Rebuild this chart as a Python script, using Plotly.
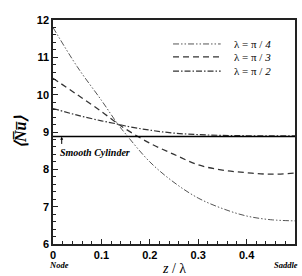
import plotly.graph_objects as go

z = [0, 0.05, 0.1, 0.134, 0.15, 0.2, 0.25, 0.3, 0.35, 0.4, 0.45, 0.5]
nu_pi4 = [11.8, 10.75, 9.85, 9.21, 8.95, 8.2, 7.65, 7.23, 6.95, 6.75, 6.65, 6.62]
nu_pi3 = [10.44, 10.0, 9.55, 9.22, 9.08, 8.7, 8.4, 8.12, 7.98, 7.91, 7.87, 7.9]
nu_pi2 = [9.63, 9.45, 9.3, 9.21, 9.16, 9.05, 8.97, 8.93, 8.91, 8.9, 8.9, 8.9]
smooth_z = [0, 0.5]
smooth_nu = [8.88, 8.88]

names = ["\u03bb = \u03c0 / <i>4</i>", "\u03bb = \u03c0 / <i>3</i>", "\u03bb = \u03c0 / <i>2</i>"]
styles = [
    dict(color="#555", width=1, dash="6px,2px,1.5px,2px,1.5px,2px"),
    dict(color="#333", width=1.3, dash="6px,4px"),
    dict(color="#333", width=1.2, dash="6px,2px,1.5px,2px"),
]
series = [nu_pi4, nu_pi3, nu_pi2]

fig = go.Figure()
for name, vals, st in zip(names, series, styles):
    fig.add_trace(go.Scatter(x=z, y=vals, mode="lines", name=name, line_shape="spline",
                             line=st, showlegend=False))
fig.add_trace(go.Scatter(x=smooth_z, y=smooth_nu, mode="lines", showlegend=False,
                         line=dict(color="black", width=1.3)))

# legend drawn inside plot (compact rows)
leg_y = [0.893, 0.835, 0.772]
for name, st, yy in zip(names, styles, leg_y):
    fig.add_shape(type="line", xref="paper", yref="paper", x0=0.496, x1=0.693, y0=yy, y1=yy,
                  line=st)
    fig.add_annotation(x=0.738, y=yy, xref="paper", yref="paper", xanchor="left", yanchor="middle",
                       text=name, showarrow=False,
                       font=dict(family="Liberation Serif, Times New Roman", size=11, color="black"))

axis_common = dict(showline=True, linecolor="#222", linewidth=1.5, mirror=True,
                   ticks="inside", ticklen=5, tickcolor="#222", showgrid=False, zeroline=False,
                   tickfont=dict(family="Arial, Liberation Sans", size=11, color="black", weight="bold"))
fig.update_xaxes(range=[0, 0.5],
                 tickvals=[0, 0.1, 0.2, 0.3, 0.4, 0.5], ticktext=["0", "0.1", "0.2", "0.3", "0.4", "0.5"],
                 minor=dict(ticks="inside", dtick=0.02, ticklen=3, tickcolor="#222"), **axis_common)
fig.update_yaxes(range=[6, 12], dtick=1,
                 minor=dict(ticks="inside", dtick=0.2, ticklen=3, tickcolor="#222"), **axis_common)

fig.add_annotation(x=0.018, y=8.87, ax=0.018, ay=8.64, xref="x", yref="y", axref="x", ayref="y",
                   text="", showarrow=True, arrowhead=2, arrowsize=0.6, arrowwidth=1, arrowcolor="black")
fig.add_annotation(x=0.01, y=8.45, xref="x", yref="y", xanchor="left", yanchor="middle",
                   text="<b><i>Smooth Cylinder</i></b>", showarrow=False,
                   font=dict(family="Liberation Serif, Times New Roman", size=10, color="black"))
fig.add_annotation(x=0, y=0, xref="x", yref="paper", yshift=-21, xanchor="left", yanchor="middle",
                   xshift=-6,
                   text="<b><i>Node</i></b>", showarrow=False,
                   font=dict(family="Liberation Serif, Times New Roman", size=8.5, color="black"))
fig.add_annotation(x=1, y=0, xref="paper", yref="paper", yshift=-21, xshift=5, xanchor="right",
                   yanchor="middle",
                   text="<b><i>Saddle</i></b>", showarrow=False,
                   font=dict(family="Liberation Serif, Times New Roman", size=8.5, color="black"))
fig.add_annotation(x=0.25, y=0, xref="x", yref="paper", yshift=-24, xanchor="center", yanchor="middle",
                   text="<i>z</i> / \u03bb", showarrow=False,
                   font=dict(family="Liberation Serif, Times New Roman", size=14, color="black"))
fig.add_annotation(x=0, y=9, xref="paper", yref="y", xshift=-33, xanchor="center", yanchor="middle",
                   text="<b><i>\u27e8N\u0305u\u0305\u27e9</i></b>", showarrow=False, textangle=-90,
                   font=dict(family="Liberation Serif, Times New Roman", size=16, color="black"))

fig.update_layout(
    width=302, height=276,
    margin=dict(l=53, r=5, t=20, b=32),
    paper_bgcolor="white", plot_bgcolor="white",
    showlegend=False,
)

fig.write_html("out.html")
